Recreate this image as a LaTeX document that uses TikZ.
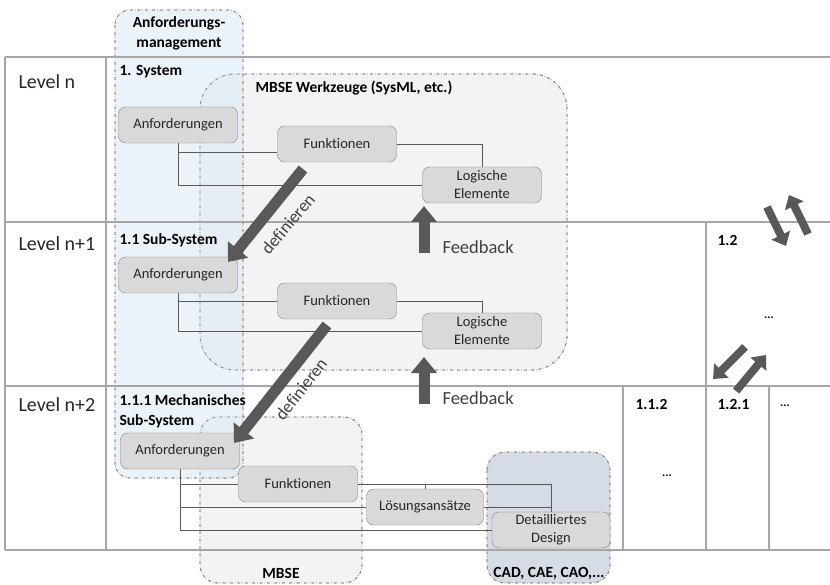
\documentclass[tikz,border=0pt]{standalone}
\usepackage{fontspec}
\setmainfont{Carlito}[Ligatures=NoCommon]
\usetikzlibrary{arrows.meta, positioning, backgrounds}
\definecolor{elemfill}{HTML}{D9D9D9}
\definecolor{elemedge}{HTML}{808080}
\definecolor{tablegray}{HTML}{A6A6A6}
\definecolor{wiregray}{HTML}{595959}
\definecolor{arrowgray}{HTML}{595959}
\definecolor{reqblue}{HTML}{DEEBF7}
\definecolor{toolgray}{HTML}{EDEDED}
\definecolor{cadblue}{HTML}{D6DCE5}
\definecolor{textgray}{HTML}{404040}

\begin{document}
\begin{tikzpicture}[x=1pt, y=-1pt,
  elem/.style={draw=elemedge, fill=elemfill, rounded corners=7pt, minimum width=119pt,
    minimum height=36pt, inner sep=1pt, align=center, text=black!85,
    font=\fontsize{14.5}{18}\selectfont},
  area/.style={draw=gray!90, dash dot, line width=0.8pt, fill opacity=0.65},
  tabline/.style={draw=tablegray, line width=1.4pt},
  wire/.style={draw=wiregray, line width=0.8pt},
  bigarrow/.style={arrowgray, line width=11pt, -{Triangle[length=16pt, width=25pt]}},
  smallarrow/.style={arrowgray, line width=8pt, -{Triangle[length=12pt, width=20pt]}},
  lvl/.style={anchor=west, text=black!85, font=\fontsize{20}{24}\selectfont},
  head/.style={anchor=west, font=\bfseries\fontsize{15.5}{20}\selectfont},
  dots/.style={font=\bfseries\fontsize{12}{14}\selectfont},
  note/.style={text=textgray, font=\fontsize{18.5}{22}\selectfont},
  vert/.style={text=textgray, font=\fontsize{17.5}{20}\selectfont}
]
\useasboundingbox (0,0) rectangle (830,585);

% tool areas
\fill[area, fill=toolgray] (200,74) [rounded corners=35pt] rectangle (567,370);
\fill[area, fill=toolgray] (200,417) [rounded corners=18pt] rectangle (362,583);
\fill[area, fill=cadblue, fill opacity=1] (487,452) [rounded corners=18pt] rectangle (610,583);
\fill[area, fill=reqblue] (115,10) [rounded corners=15pt] rectangle (243,478);
\draw[area] (200,74) [rounded corners=35pt] rectangle (567,370);
\draw[area] (200,417) [rounded corners=18pt] rectangle (362,583);
\draw[area] (487,452) [rounded corners=18pt] rectangle (610,583);
\draw[area] (115,10) [rounded corners=15pt] rectangle (243,478);

\node[align=center, font=\bfseries\fontsize{15.5}{20}\selectfont] (reqtitle) at (179,33) {Anforderungs-\\management};
\node[head] (tooltitle) at (252,88) {MBSE Werkzeuge (SysML, etc.)};
\node[font=\bfseries\fontsize{15.5}{20}\selectfont] (mbsetitle) at (281,573) {MBSE};
\node[font=\bfseries\fontsize{15.5}{20}\selectfont] (cadtitle) at (549,573) {CAD, CAE, CAO,...};

% table
\draw[tabline] (5,57) -- (830,57);
\draw[tabline] (5,222) -- (830,222);
\draw[tabline] (5,386) -- (830,386);
\draw[tabline] (5,550) -- (830,550);
\draw[tabline] (5,57) -- (5,550);
\draw[tabline] (106,57) -- (106,550);
\draw[tabline] (706,222) -- (706,550);
\draw[tabline] (623,386) -- (623,550);
\draw[tabline] (769,386) -- (769,550);

\node[lvl] (lvln) at (15,82) {Level n};
\node[lvl] (lvln1) at (15,244) {Level n+1};
\node[lvl] (lvln2) at (15,405) {Level n+2};

\node[head] (sys) at (116,72) {1. System};
\node[head] (subsys) at (116,240) {1.1 Sub-System};
\node[head, align=left, anchor=north west] (mechsys) at (116,391) {1.1.1 Mechanisches\\ Sub-System};
\node[head] (c12) at (714,240) {1.2};
\node[dots] (c12dots) at (769,318) {...};
\node[head] (c112) at (632,404) {1.1.2};
\node[dots] (c112dots) at (667,476) {...};
\node[head] (c121) at (714,404) {1.2.1};
\node[dots] (cdots) at (785,406) {...};

% level n
\node[elem] (anf1) at (178,125) {Anforderungen};
\node[elem] (fkt1) at (337,144) {Funktionen};
\node[elem] (log1) at (482,185) {Logische\\Elemente};
\draw[wire] (anf1.south) |- ([yshift=-8pt]fkt1.west);
\draw[wire] (anf1.south) |- (log1.west);
\draw[wire] (fkt1.east) -| (log1.north);

% level n+1
\node[elem] (anf2) at (178,275) {Anforderungen};
\node[elem] (fkt2) at (337,301) {Funktionen};
\node[elem] (log2) at (482,331) {Logische\\Elemente};
\draw[wire] (anf2.south) |- (fkt2.west);
\draw[wire] (anf2.south) |- (log2.west);
\draw[wire] (fkt2.east) -| (log2.north);

% level n+2
\node[elem] (anf3) at (180,451) {Anforderungen};
\node[elem] (fkt3) at (298,484) {Funktionen};
\node[elem, minimum width=117pt] (loe) at (425,507) {Lösungsansätze};
\node[elem, minimum width=118pt] (det) at (551,530) {Detailliertes\\Design};
\draw[wire] (anf3.south) |- (fkt3.west);
\draw[wire] (anf3.south) |- (loe.west);
\draw[wire] (anf3.south) |- (det.west);
\draw[wire] (fkt3.east) -| (det.north);
\draw[wire] (loe.north) -- (loe.north |- fkt3.east);
\draw[wire] (loe.east) -- (loe.east -| det.north);

% definieren / Feedback
\coordinate (def1a) at (303,169);
\coordinate (def1b) at (228,262);
\coordinate (def2a) at (327,325);
\coordinate (def2b) at (234,443);
\draw[bigarrow] (def1a) -- (def1b);
\draw[bigarrow] (def2a) -- (def2b);
\node[vert, rotate=50] (def1) at (288,224) {definieren};
\node[vert, rotate=52] (def2) at (301,389) {definieren};

\coordinate (fb1a) at (424,253);
\coordinate (fb1b) at (424,206);
\coordinate (fb2a) at (424,404);
\coordinate (fb2b) at (424,357);
\draw[bigarrow] (fb1a) -- (fb1b);
\draw[bigarrow] (fb2a) -- (fb2b);
\node[note, anchor=west] (fb1) at (439,247) {Feedback};
\node[note, anchor=west] (fb2) at (439,398) {Feedback};

% links between columns
\coordinate (up1a) at (767,207);
\coordinate (up1b) at (786,246);
\coordinate (up2a) at (808,234);
\coordinate (up2b) at (789,195);
\draw[smallarrow] (up1a) -- (up1b);
\draw[smallarrow] (up2a) -- (up2b);
\coordinate (lo1a) at (745,347);
\coordinate (lo1b) at (713,379);
\coordinate (lo2a) at (736,391);
\coordinate (lo2b) at (766,355);
\draw[smallarrow] (lo1a) -- (lo1b);
\draw[smallarrow] (lo2a) -- (lo2b);
\end{tikzpicture}
\end{document}
